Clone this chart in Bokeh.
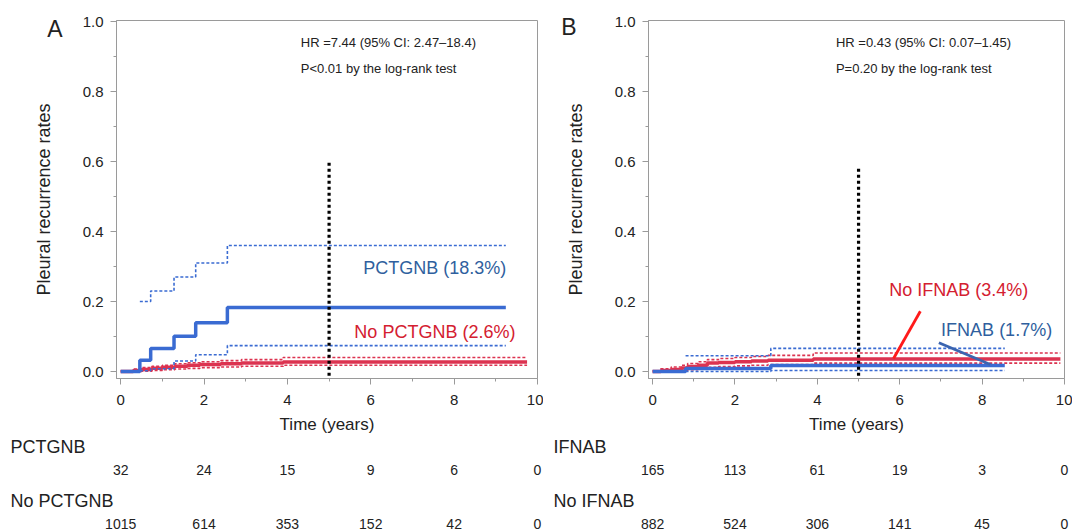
from bokeh.plotting import figure
from bokeh.layouts import row, column
from bokeh.models import Range1d, FixedTicker, Label, PrintfTickFormatter, ColumnDataSource, LinearAxis
from bokeh.core.properties import value
from bokeh.embed import file_html
from bokeh.resources import INLINE

# ---------------- data ----------------
time_ticks = [0, 2, 4, 6, 8, 10]
time_minor = [1, 3, 5, 7, 9]
rate_ticks = [0.0, 0.2, 0.4, 0.6, 0.8, 1.0]
rate_minor = [0.1, 0.3, 0.5, 0.7, 0.9]
landmark_year = 5
landmark_top = [0.60, 0.58]

# Panel A
a_groups = ["PCTGNB", "No PCTGNB"]
a_risk_pct = [32, 24, 15, 9, 6, 0]
a_risk_no = [1015, 614, 353, 152, 42, 0]
a_pct_t = [0, 0.46, 0.72, 1.28, 1.80, 2.56, 9.24]
a_pct_est = [0, 0.032, 0.066, 0.101, 0.139, 0.183, 0.183]
a_pct_ci_t = [0.46, 0.72, 1.28, 1.80, 2.56, 9.24]
a_pct_upper = [0.20, 0.23, 0.27, 0.31, 0.36, 0.36]
a_pct_lower = [0.002, 0.008, 0.030, 0.048, 0.074, 0.074]
a_no_t = [0, 0.3, 0.5, 0.75, 1.0, 1.3, 1.6, 1.9, 2.4, 2.9, 3.9, 9.75]
a_no_est = [0, 0.003, 0.006, 0.009, 0.012, 0.015, 0.018, 0.020, 0.022, 0.024, 0.027, 0.027]
a_no_upper = [0.002, 0.007, 0.011, 0.015, 0.018, 0.022, 0.025, 0.028, 0.031, 0.034, 0.040, 0.040]
a_no_lower = [0, 0, 0.001, 0.003, 0.005, 0.007, 0.009, 0.011, 0.013, 0.015, 0.018, 0.018]
a_labels = ["PCTGNB (18.3%)", "No PCTGNB (2.6%)"]
a_stats = ["HR =7.44 (95% CI: 2.47\u201318.4)", "P<0.01 by the log-rank test"]

# Panel B
b_groups = ["IFNAB", "No IFNAB"]
b_risk_if = [165, 113, 61, 19, 3, 0]
b_risk_no = [882, 524, 306, 141, 45, 0]
b_if_t = [0, 0.8, 2.87, 8.55]
b_if_est = [0, 0.0085, 0.017, 0.017]
b_if_ci_t = [0.8, 2.87, 8.55]
b_if_upper = [0.045, 0.066, 0.066]
b_if_lower = [0.0, 0.003, 0.003]
b_no_t = [0, 0.2, 0.45, 0.7, 0.85, 1.1, 1.33, 1.6, 2.0, 2.4, 2.8, 3.9, 9.9]
b_no_est = [0, 0.003, 0.006, 0.010, 0.014, 0.018, 0.024, 0.026, 0.028, 0.030, 0.032, 0.036, 0.036]
b_no_upper = [0.002, 0.008, 0.013, 0.018, 0.023, 0.028, 0.034, 0.037, 0.040, 0.043, 0.046, 0.053, 0.053]
b_no_lower = [0, 0, 0.001, 0.003, 0.005, 0.008, 0.012, 0.014, 0.016, 0.018, 0.020, 0.024, 0.024]
b_labels = ["IFNAB (1.7%)", "No IFNAB (3.4%)"]
b_stats = ["HR =0.43 (95% CI: 0.07\u20131.45)", "P=0.20 by the log-rank test"]
# leader lines (label -> curve) in panel B
b_lead_if_x = [6.95, 8.2]
b_lead_if_y = [0.082, 0.020]
b_lead_no_x = [6.5, 5.85]
b_lead_no_y = [0.172, 0.037]

# ---------------- style ----------------
FONT = "Liberation Sans"
TXT = "#222222"
AX = "#9a9a9a"
BLUE = "#3a6bd2"
BLUE_TXT = "#2f5f9e"
RED = "#dc3350"
RED_TXT = "#d42030"

KM_H = 437
TAB_H = 531 - KM_H
TOP = 20
FRAME_H = 358
X0, X1 = -0.1, 10
Y0, Y1 = -0.02, 1.003


def km_fig(width, left, frame_w, panel_letter, letter_y, letter_standoff):
    p = figure(width=width, height=KM_H, x_range=Range1d(X0, X1), y_range=Range1d(Y0, Y1),
               output_backend="svg", toolbar_location=None, frame_align=False,
               min_border_left=left, min_border_right=width - left - frame_w,
               min_border_top=TOP, min_border_bottom=KM_H - TOP - FRAME_H)
    p.grid.visible = False
    p.outline_line_color = AX
    p.background_fill_color = "white"
    p.border_fill_color = "white"
    p.xaxis.ticker = FixedTicker(ticks=time_ticks, minor_ticks=time_minor)
    p.yaxis.ticker = FixedTicker(ticks=rate_ticks, minor_ticks=rate_minor)
    p.yaxis.formatter = PrintfTickFormatter(format="%.1f")
    p.xaxis.axis_label = "Time (years)"
    p.yaxis.axis_label = "Pleural recurrence rates"
    for ax in (p.xaxis[0], p.yaxis[0]):
        ax.axis_line_color = AX
        ax.major_tick_line_color = AX
        ax.minor_tick_line_color = AX
        ax.major_tick_in = 0
        ax.major_tick_out = 6
        ax.minor_tick_in = 0
        ax.minor_tick_out = 3
        ax.major_label_text_font = FONT
        ax.major_label_text_font_size = "15px"
        ax.major_label_text_color = TXT
        ax.axis_label_text_font = FONT
        ax.axis_label_text_font_style = "normal"
        ax.axis_label_text_color = TXT
    p.xaxis.major_label_standoff = 10
    p.xaxis.axis_label_text_font_size = "17px"
    p.xaxis.axis_label_standoff = 7
    p.yaxis.major_label_standoff = 7
    p.yaxis.axis_label_text_font_size = "18px"
    p.yaxis.axis_label_standoff = 26
    # panel letter carried by an outer, line-less axis
    letter_axis = LinearAxis(ticker=FixedTicker(ticks=[letter_y], minor_ticks=[]),
                             major_label_overrides={letter_y: panel_letter},
                             axis_line_color=None, major_tick_line_color=None, minor_tick_line_color=None,
                             major_label_text_font=FONT, major_label_text_font_size="23px",
                             major_label_text_color=TXT, major_label_standoff=letter_standoff)
    p.add_layout(letter_axis, "left")
    return p


def add_curve(p, t, est, ci_t, up, lo, color):
    p.step(ci_t, up, mode="after", line_color=color, line_width=1.6, line_dash="3 2")
    p.step(ci_t, lo, mode="after", line_color=color, line_width=1.6, line_dash="3 2")
    p.step(t, est, mode="after", line_color=color, line_width=3.5)


def add_text(p, x, y, s, size, color, align="left"):
    p.add_layout(Label(x=x, y=y, text=s, text_font=FONT, text_font_size=size,
                       text_color=color, text_align=align, text_baseline="middle"))


def table_fig(width, left, frame_w, groups, risks):
    pxy = frame_w / (X1 - X0)
    zero = left + (0 - X0) * pxy
    t = figure(width=width, height=TAB_H, x_range=Range1d((0 - zero) / pxy, (width - zero) / pxy),
               y_range=Range1d(0, TAB_H), frame_align=False,
               output_backend="svg", toolbar_location=None, x_axis_type=None, y_axis_type=None,
               min_border=0, min_border_left=0, min_border_right=0, min_border_top=0, min_border_bottom=0)
    t.grid.visible = False
    t.outline_line_color = None
    label_x = (10 - zero) / pxy
    row_y_label = [85, 31]
    row_y_num = [62, 8]
    for g, r, yl, yn in zip(groups, risks, row_y_label, row_y_num):
        t.text(x=[label_x], y=[yl], text=[g], text_font=value(FONT), text_font_size="18px",
               text_color=TXT, text_align="left", text_baseline="middle")
        src = ColumnDataSource(dict(x=time_ticks, y=[yn] * len(time_ticks), s=[str(v) for v in r]))
        t.text(x="x", y="y", text="s", source=src, text_font=value(FONT), text_font_size="14px",
               text_color=TXT, text_align="center", text_baseline="middle")
    return t


# ---------------- Panel A ----------------
A_W, A_L, A_FW = 543, 116, 421
pa = km_fig(A_W, A_L, A_FW, "A", 0.978, -38)
add_curve(pa, a_no_t, a_no_est, a_no_t, a_no_upper, a_no_lower, RED)
add_curve(pa, a_pct_t, a_pct_est, a_pct_ci_t, a_pct_upper, a_pct_lower, BLUE)
pa.line([landmark_year, landmark_year], [-0.012, landmark_top[0]], line_color="black", line_width=3.2, line_dash="3 3")
add_text(pa, 9.25, 0.295, a_labels[0], "18px", BLUE_TXT, "right")
add_text(pa, 9.47, 0.112, a_labels[1], "18px", RED_TXT, "right")
add_text(pa, 4.32, 0.94, a_stats[0], "13px", TXT)
add_text(pa, 4.32, 0.866, a_stats[1], "13px", TXT)
ta = table_fig(A_W, A_L, A_FW, a_groups, [a_risk_pct, a_risk_no])

# ---------------- Panel B ----------------
B_W, B_L, B_FW = 1072 - 543, 105, 416
pb = km_fig(B_W, B_L, B_FW, "B", 0.984, -20)
add_curve(pb, b_no_t, b_no_est, b_no_t, b_no_upper, b_no_lower, RED)
add_curve(pb, b_if_t, b_if_est, b_if_ci_t, b_if_upper, b_if_lower, BLUE)
pb.line([landmark_year, landmark_year], [-0.012, landmark_top[1]], line_color="black", line_width=3.2, line_dash="3 3")
pb.line(b_lead_no_x, b_lead_no_y, line_color="#ff1a1a", line_width=2.8)
pb.line(b_lead_if_x, b_lead_if_y, line_color="#3a64b0", line_width=2.8)
add_text(pb, 9.12, 0.232, b_labels[1], "18px", RED_TXT, "right")
add_text(pb, 9.7, 0.12, b_labels[0], "18px", BLUE_TXT, "right")
add_text(pb, 4.45, 0.94, b_stats[0], "13px", TXT)
add_text(pb, 4.45, 0.866, b_stats[1], "13px", TXT)
tb = table_fig(B_W, B_L, B_FW, b_groups, [b_risk_if, b_risk_no])

layout = row(column(pa, ta), column(pb, tb))

with open("out.html", "w") as f:
    f.write(file_html(layout, INLINE))
